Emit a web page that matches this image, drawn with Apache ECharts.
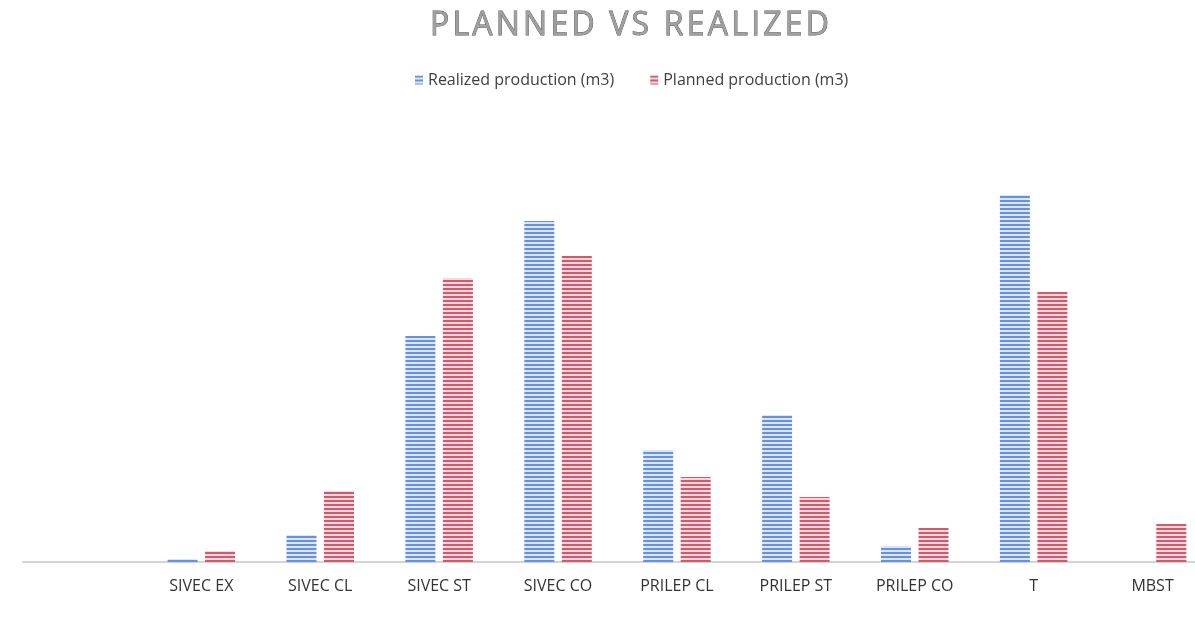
<!DOCTYPE html>
<html>
<head>
<meta charset="utf-8">
<script src="https://cdn.jsdelivr.net/npm/echarts@6/dist/echarts.min.js"></script>
<style>
    html, body { margin: 0; padding: 0; background: #fff; }
    #chartMain { width: 1195px; height: 622px; }
</style>
</head>
<body>
<div id="chartMain"></div>
<script>
// categories (first slot is empty in the original chart)
const categories = ['', 'SIVEC EX', 'SIVEC CL', 'SIVEC ST', 'SIVEC CO', 'PRILEP CL', 'PRILEP ST', 'PRILEP CO', 'T', 'MBST'];
// realized production (m3)
const realized = [null, 3, 27, 226, 341, 112, 147, 16, 367, 0];
// planned production (m3)
const planned = [null, 11, 71, 284, 306, 85, 65, 34, 270, 38];

// striped fill like the scanned original
function stripes(line, gap) {
    const c = document.createElement('canvas');
    c.width = 4;
    c.height = 4;
    const ctx = c.getContext('2d');
    ctx.fillStyle = gap;
    ctx.fillRect(0, 0, 4, 4);
    ctx.fillStyle = line;
    ctx.fillRect(0, 0, 4, 2);
    return { image: c, repeat: 'repeat' };
}

// spread the title letters out a bit (hair spaces)
function spaced(s) {
    return s.split('').join('\u200A');
}

const blueFill = stripes('#6591e0', '#dce6f8');
const redFill = stripes('#cf5a6e', '#f5d8dd');

const myChart = echarts.init(document.getElementById('chartMain'));
myChart.setOption({
    animation: false,
    title: {
        text: spaced('PLANNED VS REALIZED'),
        left: 425,
        top: 5,
        textStyle: {
            fontFamily: 'Open Sans',
            fontSize: 32,
            fontWeight: 'normal',
            color: '#a0a0a0',
            textBorderColor: '#555',
            textBorderWidth: 0.8
        }
    },
    legend: {
        top: 67,
        left: 410,
        itemWidth: 8,
        itemHeight: 9,
        itemGap: 36,
        icon: 'rect',
        textStyle: { fontFamily: 'Open Sans', fontSize: 16, color: '#404040' },
        data: ['Realized production (m3)', 'Planned production (m3)']
    },
    grid: {
        left: 23,
        width: 1189,
        top: 162,
        bottom: 60,
        outerBoundsMode: 'none'
    },
    xAxis: {
        type: 'category',
        data: categories,
        axisLine: { lineStyle: { color: '#d4d4d4', width: 2 } },
        axisTick: { show: false },
        axisLabel: { fontFamily: 'Open Sans', fontSize: 16, color: '#333', margin: 16, interval: 0 }
    },
    yAxis: {
        type: 'value',
        min: 0,
        max: 400,
        show: false
    },
    series: [
        {
            name: 'Realized production (m3)',
            type: 'bar',
            data: realized,
            barWidth: 30,
            barGap: '25%',
            itemStyle: { color: blueFill }
        },
        {
            name: 'Planned production (m3)',
            type: 'bar',
            data: planned,
            barWidth: 30,
            itemStyle: { color: redFill }
        }
    ]
});
</script>
</body>
</html>
